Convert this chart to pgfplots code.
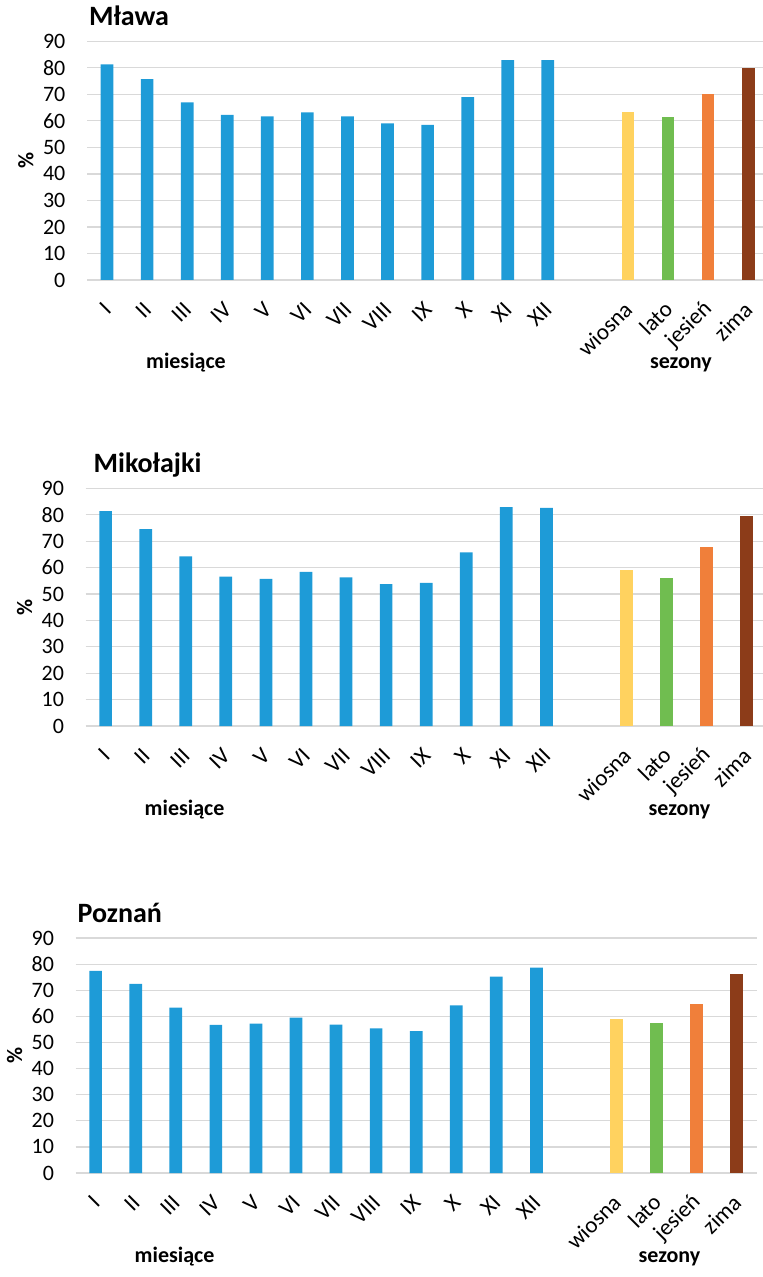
\documentclass[border=0pt]{standalone}
\usepackage{pgfplots}
\pgfplotsset{compat=1.18}
\usepackage{fontspec}
\setmainfont{Carlito}
\definecolor{cblue}{RGB}{30,155,215}
\definecolor{cyellow}{RGB}{255,210,95}
\definecolor{cgreen}{RGB}{112,189,80}
\definecolor{corange}{RGB}{240,127,58}
\definecolor{cbrown}{RGB}{140,60,25}
\definecolor{cgrid}{RGB}{217,217,217}
\pgfplotsset{
  panel/.style={
    scale only axis,
    width=340.6pt,
    anchor=south west,
    xmin=-0.5, xmax=16.5, ymin=0, ymax=90,
    enlargelimits=false,
    clip=false,
    axis line style={draw=none},
    major tick length=0pt,
    ymajorgrids,
    grid style={cgrid, line width=0.6pt},
    ytick={0,10,...,90},
    xtick={0,1,2,3,4,5,6,7,8,9,10,11,13,14,15,16},
    xticklabels={I,II,III,IV,V,VI,VII,VIII,IX,X,XI,XII,wiosna,lato,jesień,zima},
    /pgf/number format/assume math mode=true,
    yticklabel style={font=\fontsize{11}{12}\selectfont, xshift=-7.3pt},
    xticklabel style={font=\fontsize{11.5}{12}\selectfont, yshift=-12pt, xshift=1pt, rotate=45, anchor=east, inner sep=1pt},
  },
  mybar/.style={ybar, bar width=6.35pt, draw=none, fill=#1},
}
\newcommand{\panelextras}[2]{%
  \node[anchor=base west, font=\bfseries\fontsize{14}{16}\selectfont] at (rel axis cs:0,1) [yshift=8pt, xshift=#2] {#1};
  \node[xshift=-30.5pt, rotate=90, font=\bfseries\fontsize{11}{13}\selectfont] at (rel axis cs:0,0.5) {\%};
  \node[anchor=base, font=\bfseries\fontsize{11}{13}\selectfont] at (axis cs:1.97,0) [yshift=-44.5pt] {miesiące};
  \node[anchor=base, font=\bfseries\fontsize{11}{13}\selectfont] at (axis cs:14.32,0) [yshift=-44.5pt] {sezony};
}
\begin{document}
\begin{tikzpicture}
\path[use as bounding box] (0,0) rectangle (381.5pt,-638.5pt);
% Mława
\begin{axis}[panel, at={(43.5pt,-140pt)}, height=119.35pt]
\addplot[mybar=cblue] coordinates {(0,81.3) (1,75.7) (2,67.0) (3,62.3) (4,61.7) (5,63.2) (6,61.7) (7,59.1) (8,58.5) (9,69.0) (10,82.9) (11,82.9)};
\addplot[mybar=cyellow] coordinates {(13,63.4)};
\addplot[mybar=cgreen] coordinates {(14,61.5)};
\addplot[mybar=corange] coordinates {(15,70.1)};
\addplot[mybar=cbrown] coordinates {(16,79.9)};
\panelextras{Mława}{-2.5pt}
\end{axis}
% Mikołajki
\begin{axis}[panel, at={(42.8pt,-363pt)}, height=118.85pt]
\addplot[mybar=cblue] coordinates {(0,81.4) (1,74.5) (2,64.2) (3,56.6) (4,55.7) (5,58.4) (6,56.3) (7,53.7) (8,54.2) (9,65.7) (10,82.9) (11,82.6)};
\addplot[mybar=cyellow] coordinates {(13,59.0)};
\addplot[mybar=cgreen] coordinates {(14,56.1)};
\addplot[mybar=corange] coordinates {(15,67.8)};
\addplot[mybar=cbrown] coordinates {(16,79.4)};
\panelextras{Mikołajki}{0.5pt}
\end{axis}
% Poznań
\begin{axis}[panel, at={(37.8pt,-586.5pt)}, height=117.5pt]
\addplot[mybar=cblue] coordinates {(0,77.4) (1,72.4) (2,63.3) (3,56.7) (4,57.2) (5,59.5) (6,56.8) (7,55.4) (8,54.3) (9,64.2) (10,75.2) (11,78.7)};
\addplot[mybar=cyellow] coordinates {(13,59.0)};
\addplot[mybar=cgreen] coordinates {(14,57.3)};
\addplot[mybar=corange] coordinates {(15,64.6)};
\addplot[mybar=cbrown] coordinates {(16,76.1)};
\panelextras{Poznań}{-2.5pt}
\end{axis}
\end{tikzpicture}
\end{document}
